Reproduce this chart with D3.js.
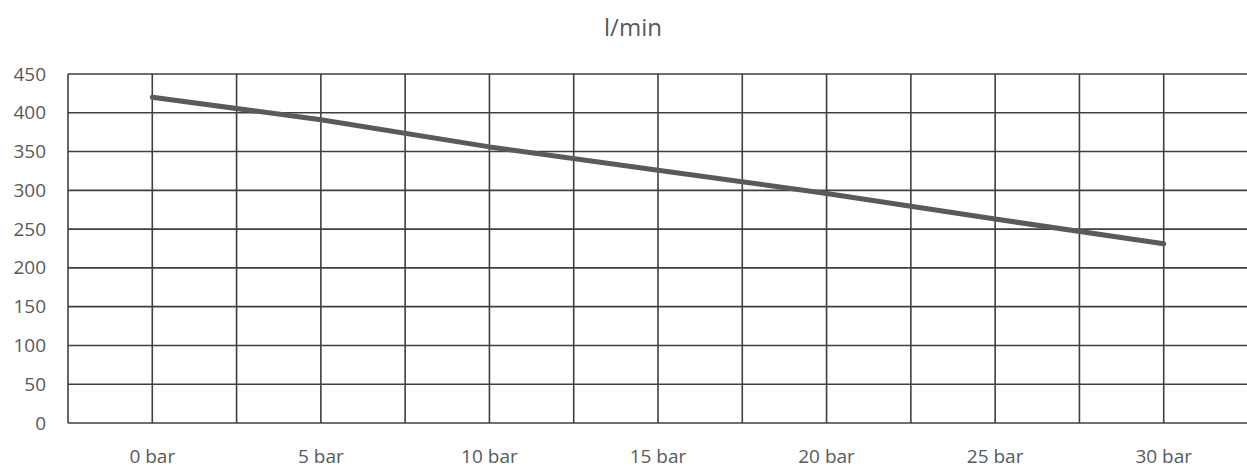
<!DOCTYPE html>
<html><head><meta charset="utf-8">
<script src="https://cdn.jsdelivr.net/npm/d3@7"></script>
<style>body{margin:0;background:#fff}svg{display:block}</style>
</head><body><svg id="c" width="1247" height="471"></svg>
<script>
const categories = ["0 bar","5 bar","10 bar","15 bar","20 bar","25 bar","30 bar"];
const flow = [420, 391, 356, 326, 296, 263, 231];
const yTicks = [0,50,100,150,200,250,300,350,400,450];
const title = "l/min";

const svg = d3.select("#c");
const mLeft = 68, mRight = 1248, mTop = 74, mBottom = 423;
const x = d3.scaleBand().domain(categories).range([mLeft, mRight]).padding(0);
const y = d3.scaleLinear().domain([0, 450]).range([mBottom, mTop]);
const font = "'Open Sans', 'Noto Sans', sans-serif";
const grid = "#3f3f3f";

// horizontal gridlines
svg.append("g").selectAll("line").data(yTicks).join("line")
  .attr("x1", mLeft).attr("x2", 1247)
  .attr("y1", d => y(d)).attr("y2", d => y(d))
  .attr("stroke", grid).attr("stroke-width", 1.6);

// vertical gridlines: band edges and centers
const vx = [];
categories.forEach(c => { vx.push(x(c)); vx.push(x(c) + x.bandwidth()/2); });
svg.append("g").selectAll("line").data(vx).join("line")
  .attr("x1", d => d).attr("x2", d => d)
  .attr("y1", mTop).attr("y2", mBottom)
  .attr("stroke", grid).attr("stroke-width", 1.6);

// y axis labels
const yAxis = d3.axisLeft(y).tickValues(yTicks).tickSize(0).tickPadding(0);
const gy = svg.append("g").attr("transform", `translate(46,0)`).call(yAxis);
gy.select(".domain").remove();
gy.selectAll("text").attr("fill", "#595959").style("font-family", font).style("font-size", "19px")
  .attr("dy", "0.32em");

// x axis labels
const xAxis = d3.axisBottom(x).tickSize(0).tickPadding(0);
const gx = svg.append("g").attr("transform", `translate(0,449)`).call(xAxis);
gx.select(".domain").remove();
gx.selectAll("text").attr("fill", "#595959").style("font-family", font).style("font-size", "19px");

// line
const line = d3.line().x((d,i) => x(categories[i]) + x.bandwidth()/2).y(d => y(d));
svg.append("path").datum(flow).attr("d", line)
  .attr("fill", "none").attr("stroke", "#5a5a5a").attr("stroke-width", 5)
  .attr("stroke-linecap", "round").attr("stroke-linejoin", "round");

// title
svg.append("text").attr("x", 633).attr("y", 36).attr("text-anchor", "middle")
  .attr("fill", "#595959").style("font-family", font).style("font-size", "24px").text(title);
</script>
</body></html>
